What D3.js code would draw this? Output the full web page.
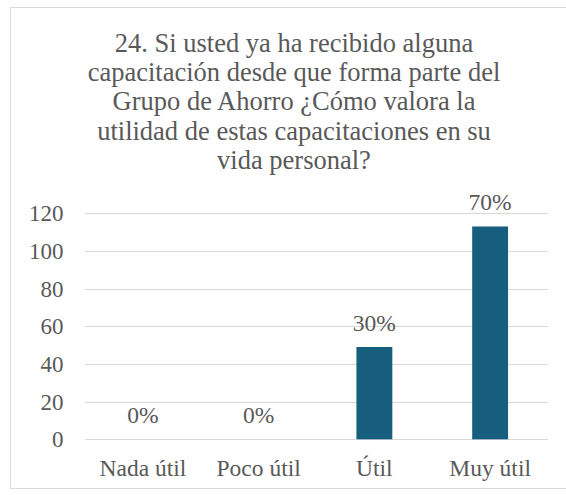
<!DOCTYPE html>
<html>
<head>
<meta charset="utf-8">
<script src="https://cdn.jsdelivr.net/npm/d3@7"></script>
</head>
<body style="margin:0">
<svg id="chart" width="566" height="495"></svg>
<script>
const categories = ["Nada útil", "Poco útil", "Útil", "Muy útil"];
const values = [0, 0, 49, 113];
const labels = ["0%", "0%", "30%", "70%"];
const yTicks = [0, 20, 40, 60, 80, 100, 120];
const titleLines = [
  "24. Si usted ya ha recibido alguna",
  "capacitación desde que forma parte del",
  "Grupo de Ahorro ¿Cómo valora la",
  "utilidad de estas capacitaciones en su",
  "vida personal?"
];

const FONT = "Liberation Serif";
const svg = d3.select("#chart");

// chart border
svg.append("rect")
  .attr("x", 10.5).attr("y", 7.5)
  .attr("width", 570).attr("height", 481)
  .attr("fill", "#fff").attr("stroke", "#d9d9d9").attr("stroke-width", 1);

const plot = { left: 85, right: 548, top: 213.3, bottom: 439.3 };

const x = d3.scaleBand().domain(categories)
  .range([plot.left, plot.right])
  .paddingInner(0.69).paddingOuter(0.345);
const y = d3.scaleLinear().domain([0, 120]).range([plot.bottom, plot.top]);

// gridlines
svg.append("g").selectAll("line").data(yTicks).join("line")
  .attr("x1", plot.left).attr("x2", plot.right)
  .attr("y1", d => Math.round(y(d)) + 0.5).attr("y2", d => Math.round(y(d)) + 0.5)
  .attr("stroke", "#d9d9d9").attr("stroke-width", 1.2);

// y axis labels
const yAxis = d3.axisLeft(y).tickValues(yTicks).tickSize(0).tickPadding(0);
const gy = svg.append("g").attr("transform", "translate(63.5,0)").call(yAxis);
gy.select(".domain").remove();
gy.selectAll("text").attr("fill", "#595959").attr("font-family", FONT).attr("font-size", 23);

// x axis labels
const xAxis = d3.axisBottom(x).tickSize(0).tickPadding(0);
const gx = svg.append("g").attr("transform", `translate(0,${plot.bottom})`).call(xAxis);
gx.select(".domain").remove();
gx.selectAll("text").attr("fill", "#595959").attr("dy", null).attr("y", 37)
  .attr("font-family", FONT).attr("font-size", 23.5);

// bars
svg.append("g").selectAll("rect").data(categories).join("rect")
  .attr("x", d => x(d)).attr("width", x.bandwidth())
  .attr("y", (d, i) => y(values[i]))
  .attr("height", (d, i) => y(0) - y(values[i]))
  .attr("fill", "#175e7e");

// data labels
svg.append("g").selectAll("text").data(categories).join("text")
  .attr("x", d => x(d) + x.bandwidth() / 2)
  .attr("y", (d, i) => y(values[i]) - 16.5)
  .attr("text-anchor", "middle")
  .attr("fill", "#595959")
  .attr("font-family", FONT).attr("font-size", 23.5)
  .text((d, i) => labels[i]);

// title
svg.append("g").selectAll("text").data(titleLines).join("text")
  .attr("x", 294).attr("y", (d, i) => 52 + i * 29.2)
  .attr("text-anchor", "middle")
  .attr("fill", "#595959")
  .attr("font-family", FONT).attr("font-size", 26.5)
  .text(d => d);
</script>
</body>
</html>
